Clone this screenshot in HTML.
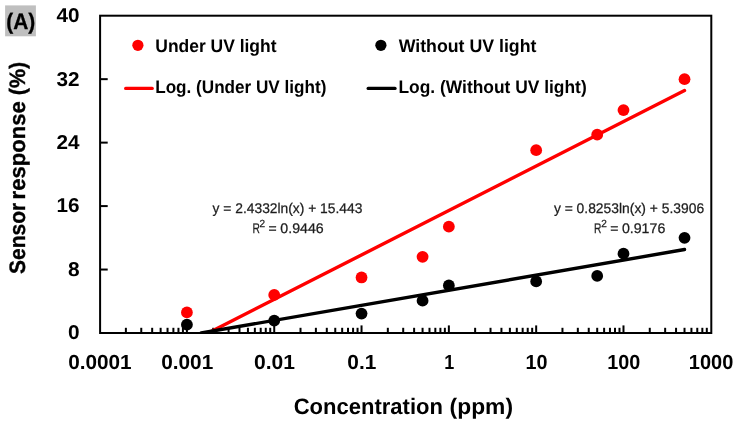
<!DOCTYPE html>
<html><head><meta charset="utf-8"><title>Chart</title>
<style>html,body{margin:0;padding:0;background:#fff;}svg{display:block;will-change:transform;}text{text-rendering:geometricPrecision;}</style>
</head><body>
<svg width="737" height="428" viewBox="0 0 737 428">
<rect x="0" y="0" width="737" height="428" fill="#fff"/>
<rect x="5.1" y="5.4" width="30.8" height="30.9" fill="#bfbfbf"/>
<text x="6.3" y="29.0" font-size="22.4" text-anchor="start" style="font-family:'Liberation Sans',sans-serif;font-weight:bold" fill="#000" textLength="29.0" lengthAdjust="spacingAndGlyphs" stroke="#000" stroke-width="0.3">(A)</text>
<line x1="100.1" y1="269.54" x2="107.69999999999999" y2="269.54" stroke="#000" stroke-width="2.0"/>
<line x1="100.1" y1="206.08" x2="107.69999999999999" y2="206.08" stroke="#000" stroke-width="2.0"/>
<line x1="100.1" y1="142.62" x2="107.69999999999999" y2="142.62" stroke="#000" stroke-width="2.0"/>
<line x1="100.1" y1="79.16" x2="107.69999999999999" y2="79.16" stroke="#000" stroke-width="2.0"/>
<text x="79.6" y="22.05" font-size="20.0" text-anchor="end" style="font-family:'Liberation Sans',sans-serif;font-weight:bold" fill="#000" textLength="23" lengthAdjust="spacingAndGlyphs">40</text>
<text x="79.6" y="85.51" font-size="20.0" text-anchor="end" style="font-family:'Liberation Sans',sans-serif;font-weight:bold" fill="#000" textLength="23" lengthAdjust="spacingAndGlyphs">32</text>
<text x="79.6" y="148.97" font-size="20.0" text-anchor="end" style="font-family:'Liberation Sans',sans-serif;font-weight:bold" fill="#000" textLength="23" lengthAdjust="spacingAndGlyphs">24</text>
<text x="79.6" y="212.43" font-size="20.0" text-anchor="end" style="font-family:'Liberation Sans',sans-serif;font-weight:bold" fill="#000" textLength="23" lengthAdjust="spacingAndGlyphs">16</text>
<text x="79.6" y="275.89" font-size="20.0" text-anchor="end" style="font-family:'Liberation Sans',sans-serif;font-weight:bold" fill="#000" textLength="11.6" lengthAdjust="spacingAndGlyphs">8</text>
<text x="79.6" y="339.35" font-size="20.0" text-anchor="end" style="font-family:'Liberation Sans',sans-serif;font-weight:bold" fill="#000" textLength="11.6" lengthAdjust="spacingAndGlyphs">0</text>
<line x1="125.88" y1="333.0" x2="125.88" y2="327.8" stroke="#000" stroke-width="2.0"/>
<line x1="141.26" y1="333.0" x2="141.26" y2="327.8" stroke="#000" stroke-width="2.0"/>
<line x1="152.17" y1="333.0" x2="152.17" y2="327.8" stroke="#000" stroke-width="2.0"/>
<line x1="160.63" y1="333.0" x2="160.63" y2="327.8" stroke="#000" stroke-width="2.0"/>
<line x1="167.54" y1="333.0" x2="167.54" y2="327.8" stroke="#000" stroke-width="2.0"/>
<line x1="173.39" y1="333.0" x2="173.39" y2="327.8" stroke="#000" stroke-width="2.0"/>
<line x1="178.45" y1="333.0" x2="178.45" y2="327.8" stroke="#000" stroke-width="2.0"/>
<line x1="182.92" y1="333.0" x2="182.92" y2="327.8" stroke="#000" stroke-width="2.0"/>
<line x1="186.91" y1="333.0" x2="186.91" y2="325.4" stroke="#000" stroke-width="2.0"/>
<line x1="213.20" y1="333.0" x2="213.20" y2="327.8" stroke="#000" stroke-width="2.0"/>
<line x1="228.57" y1="333.0" x2="228.57" y2="327.8" stroke="#000" stroke-width="2.0"/>
<line x1="239.48" y1="333.0" x2="239.48" y2="327.8" stroke="#000" stroke-width="2.0"/>
<line x1="247.94" y1="333.0" x2="247.94" y2="327.8" stroke="#000" stroke-width="2.0"/>
<line x1="254.86" y1="333.0" x2="254.86" y2="327.8" stroke="#000" stroke-width="2.0"/>
<line x1="260.70" y1="333.0" x2="260.70" y2="327.8" stroke="#000" stroke-width="2.0"/>
<line x1="265.77" y1="333.0" x2="265.77" y2="327.8" stroke="#000" stroke-width="2.0"/>
<line x1="270.23" y1="333.0" x2="270.23" y2="327.8" stroke="#000" stroke-width="2.0"/>
<line x1="274.23" y1="333.0" x2="274.23" y2="325.4" stroke="#000" stroke-width="2.0"/>
<line x1="300.51" y1="333.0" x2="300.51" y2="327.8" stroke="#000" stroke-width="2.0"/>
<line x1="315.89" y1="333.0" x2="315.89" y2="327.8" stroke="#000" stroke-width="2.0"/>
<line x1="326.80" y1="333.0" x2="326.80" y2="327.8" stroke="#000" stroke-width="2.0"/>
<line x1="335.26" y1="333.0" x2="335.26" y2="327.8" stroke="#000" stroke-width="2.0"/>
<line x1="342.17" y1="333.0" x2="342.17" y2="327.8" stroke="#000" stroke-width="2.0"/>
<line x1="348.02" y1="333.0" x2="348.02" y2="327.8" stroke="#000" stroke-width="2.0"/>
<line x1="353.08" y1="333.0" x2="353.08" y2="327.8" stroke="#000" stroke-width="2.0"/>
<line x1="357.55" y1="333.0" x2="357.55" y2="327.8" stroke="#000" stroke-width="2.0"/>
<line x1="361.54" y1="333.0" x2="361.54" y2="325.4" stroke="#000" stroke-width="2.0"/>
<line x1="387.83" y1="333.0" x2="387.83" y2="327.8" stroke="#000" stroke-width="2.0"/>
<line x1="403.20" y1="333.0" x2="403.20" y2="327.8" stroke="#000" stroke-width="2.0"/>
<line x1="414.11" y1="333.0" x2="414.11" y2="327.8" stroke="#000" stroke-width="2.0"/>
<line x1="422.57" y1="333.0" x2="422.57" y2="327.8" stroke="#000" stroke-width="2.0"/>
<line x1="429.49" y1="333.0" x2="429.49" y2="327.8" stroke="#000" stroke-width="2.0"/>
<line x1="435.33" y1="333.0" x2="435.33" y2="327.8" stroke="#000" stroke-width="2.0"/>
<line x1="440.40" y1="333.0" x2="440.40" y2="327.8" stroke="#000" stroke-width="2.0"/>
<line x1="444.86" y1="333.0" x2="444.86" y2="327.8" stroke="#000" stroke-width="2.0"/>
<line x1="448.86" y1="333.0" x2="448.86" y2="325.4" stroke="#000" stroke-width="2.0"/>
<line x1="475.14" y1="333.0" x2="475.14" y2="327.8" stroke="#000" stroke-width="2.0"/>
<line x1="490.52" y1="333.0" x2="490.52" y2="327.8" stroke="#000" stroke-width="2.0"/>
<line x1="501.43" y1="333.0" x2="501.43" y2="327.8" stroke="#000" stroke-width="2.0"/>
<line x1="509.89" y1="333.0" x2="509.89" y2="327.8" stroke="#000" stroke-width="2.0"/>
<line x1="516.80" y1="333.0" x2="516.80" y2="327.8" stroke="#000" stroke-width="2.0"/>
<line x1="522.65" y1="333.0" x2="522.65" y2="327.8" stroke="#000" stroke-width="2.0"/>
<line x1="527.71" y1="333.0" x2="527.71" y2="327.8" stroke="#000" stroke-width="2.0"/>
<line x1="532.18" y1="333.0" x2="532.18" y2="327.8" stroke="#000" stroke-width="2.0"/>
<line x1="536.17" y1="333.0" x2="536.17" y2="325.4" stroke="#000" stroke-width="2.0"/>
<line x1="562.46" y1="333.0" x2="562.46" y2="327.8" stroke="#000" stroke-width="2.0"/>
<line x1="577.83" y1="333.0" x2="577.83" y2="327.8" stroke="#000" stroke-width="2.0"/>
<line x1="588.74" y1="333.0" x2="588.74" y2="327.8" stroke="#000" stroke-width="2.0"/>
<line x1="597.20" y1="333.0" x2="597.20" y2="327.8" stroke="#000" stroke-width="2.0"/>
<line x1="604.12" y1="333.0" x2="604.12" y2="327.8" stroke="#000" stroke-width="2.0"/>
<line x1="609.96" y1="333.0" x2="609.96" y2="327.8" stroke="#000" stroke-width="2.0"/>
<line x1="615.02" y1="333.0" x2="615.02" y2="327.8" stroke="#000" stroke-width="2.0"/>
<line x1="619.49" y1="333.0" x2="619.49" y2="327.8" stroke="#000" stroke-width="2.0"/>
<line x1="623.49" y1="333.0" x2="623.49" y2="325.4" stroke="#000" stroke-width="2.0"/>
<line x1="649.77" y1="333.0" x2="649.77" y2="327.8" stroke="#000" stroke-width="2.0"/>
<line x1="665.15" y1="333.0" x2="665.15" y2="327.8" stroke="#000" stroke-width="2.0"/>
<line x1="676.05" y1="333.0" x2="676.05" y2="327.8" stroke="#000" stroke-width="2.0"/>
<line x1="684.52" y1="333.0" x2="684.52" y2="327.8" stroke="#000" stroke-width="2.0"/>
<line x1="691.43" y1="333.0" x2="691.43" y2="327.8" stroke="#000" stroke-width="2.0"/>
<line x1="697.27" y1="333.0" x2="697.27" y2="327.8" stroke="#000" stroke-width="2.0"/>
<line x1="702.34" y1="333.0" x2="702.34" y2="327.8" stroke="#000" stroke-width="2.0"/>
<line x1="706.80" y1="333.0" x2="706.80" y2="327.8" stroke="#000" stroke-width="2.0"/>
<text x="99.9" y="368.65" font-size="20.4" text-anchor="middle" style="font-family:'Liberation Sans',sans-serif;font-weight:bold" fill="#000" textLength="63.5" lengthAdjust="spacingAndGlyphs">0.0001</text>
<text x="187.21" y="368.65" font-size="20.4" text-anchor="middle" style="font-family:'Liberation Sans',sans-serif;font-weight:bold" fill="#000" textLength="52" lengthAdjust="spacingAndGlyphs">0.001</text>
<text x="274.53" y="368.65" font-size="20.4" text-anchor="middle" style="font-family:'Liberation Sans',sans-serif;font-weight:bold" fill="#000" textLength="41" lengthAdjust="spacingAndGlyphs">0.01</text>
<text x="361.84" y="368.65" font-size="20.4" text-anchor="middle" style="font-family:'Liberation Sans',sans-serif;font-weight:bold" fill="#000" textLength="29" lengthAdjust="spacingAndGlyphs">0.1</text>
<text x="449.16" y="368.65" font-size="20.4" text-anchor="middle" style="font-family:'Liberation Sans',sans-serif;font-weight:bold" fill="#000" textLength="10" lengthAdjust="spacingAndGlyphs">1</text>
<text x="536.47" y="368.65" font-size="20.4" text-anchor="middle" style="font-family:'Liberation Sans',sans-serif;font-weight:bold" fill="#000" textLength="22" lengthAdjust="spacingAndGlyphs">10</text>
<text x="623.79" y="368.65" font-size="20.4" text-anchor="middle" style="font-family:'Liberation Sans',sans-serif;font-weight:bold" fill="#000" textLength="33" lengthAdjust="spacingAndGlyphs">100</text>
<text x="711.1" y="368.65" font-size="20.4" text-anchor="middle" style="font-family:'Liberation Sans',sans-serif;font-weight:bold" fill="#000" textLength="44.5" lengthAdjust="spacingAndGlyphs">1000</text>
<text x="293.7" y="413.9" font-size="22.3" text-anchor="start" style="font-family:'Liberation Sans',sans-serif;font-weight:bold" fill="#000" textLength="149.2" lengthAdjust="spacingAndGlyphs">Concentration</text>
<text x="449.6" y="413.9" font-size="22.3" text-anchor="start" style="font-family:'Liberation Sans',sans-serif;font-weight:bold" fill="#000" textLength="63.4" lengthAdjust="spacingAndGlyphs">(ppm)</text>
<text transform="translate(25.2,274.0) rotate(-90)" font-size="22.3" style="font-family:'Liberation Sans',sans-serif;font-weight:bold" stroke="#000" stroke-width="0.35" textLength="71.2" lengthAdjust="spacingAndGlyphs">Sensor</text>
<text transform="translate(25.2,199.4) rotate(-90)" font-size="22.3" style="font-family:'Liberation Sans',sans-serif;font-weight:bold" stroke="#000" stroke-width="0.35" textLength="98.2" lengthAdjust="spacingAndGlyphs">response</text>
<text transform="translate(25.2,95.2) rotate(-90)" font-size="22.3" style="font-family:'Liberation Sans',sans-serif;font-weight:bold" stroke="#000" stroke-width="0.35" textLength="33.4" lengthAdjust="spacingAndGlyphs">(%)</text>
<defs><clipPath id="pc"><rect x="100.1" y="15.7" width="611.20" height="317.80"/></clipPath></defs>
<line x1="208.19" y1="333.00" x2="684.52" y2="90.55" stroke="#ff0000" stroke-width="3.4" stroke-linecap="round" clip-path="url(#pc)"/>
<line x1="201.17" y1="333.00" x2="684.52" y2="249.55" stroke="#000" stroke-width="3.4" stroke-linecap="round" clip-path="url(#pc)"/>
<rect x="100.1" y="15.7" width="611.20" height="317.30" fill="none" stroke="#000" stroke-width="2"/>
<circle cx="186.91" cy="312.38" r="5.9" fill="#ff0000"/>
<circle cx="274.23" cy="294.92" r="5.9" fill="#ff0000"/>
<circle cx="361.54" cy="277.47" r="5.9" fill="#ff0000"/>
<circle cx="422.57" cy="256.85" r="5.9" fill="#ff0000"/>
<circle cx="448.86" cy="226.70" r="5.9" fill="#ff0000"/>
<circle cx="536.17" cy="150.16" r="5.9" fill="#ff0000"/>
<circle cx="597.20" cy="134.69" r="5.9" fill="#ff0000"/>
<circle cx="623.49" cy="110.10" r="5.9" fill="#ff0000"/>
<circle cx="684.52" cy="79.16" r="5.9" fill="#ff0000"/>
<circle cx="186.91" cy="324.67" r="5.9" fill="#000"/>
<circle cx="274.23" cy="320.70" r="5.9" fill="#000"/>
<circle cx="361.54" cy="313.57" r="5.9" fill="#000"/>
<circle cx="422.57" cy="300.64" r="5.9" fill="#000"/>
<circle cx="448.86" cy="285.40" r="5.9" fill="#000"/>
<circle cx="536.17" cy="281.44" r="5.9" fill="#000"/>
<circle cx="597.20" cy="275.89" r="5.9" fill="#000"/>
<circle cx="623.49" cy="253.68" r="5.9" fill="#000"/>
<circle cx="684.52" cy="237.81" r="5.9" fill="#000"/>
<circle cx="137.9" cy="45.3" r="5.6" fill="#ff0000"/>
<text x="155.3" y="51.5" font-size="18" text-anchor="start" style="font-family:'Liberation Sans',sans-serif;font-weight:bold" fill="#000" textLength="121.2" lengthAdjust="spacingAndGlyphs">Under UV light</text>
<line x1="125.7" y1="88.4" x2="152.2" y2="88.4" stroke="#ff0000" stroke-width="3.3" stroke-linecap="round"/>
<text x="155.2" y="93.4" font-size="18" text-anchor="start" style="font-family:'Liberation Sans',sans-serif;font-weight:bold" fill="#000" textLength="171.2" lengthAdjust="spacingAndGlyphs">Log. (Under UV light)</text>
<circle cx="380.9" cy="45.3" r="5.6" fill="#000"/>
<text x="398.7" y="51.5" font-size="18" text-anchor="start" style="font-family:'Liberation Sans',sans-serif;font-weight:bold" fill="#000" textLength="137.7" lengthAdjust="spacingAndGlyphs">Without UV light</text>
<line x1="368.2" y1="88.4" x2="395.0" y2="88.4" stroke="#000" stroke-width="3.3" stroke-linecap="round"/>
<text x="398.5" y="93.4" font-size="18" text-anchor="start" style="font-family:'Liberation Sans',sans-serif;font-weight:bold" fill="#000" textLength="188.2" lengthAdjust="spacingAndGlyphs">Log. (Without UV light)</text>
<text x="212.6" y="213.1" font-size="14.0" text-anchor="start" style="font-family:'Liberation Sans',sans-serif;font-weight:normal" fill="#1c1c1c" textLength="149.8" lengthAdjust="spacingAndGlyphs" stroke="#1c1c1c" stroke-width="0.25">y = 2.4332ln(x) + 15.443</text>
<text x="252.4" y="232.5" font-size="14.0" text-anchor="start" style="font-family:'Liberation Sans',sans-serif;font-weight:normal" fill="#1c1c1c" textLength="7.4" lengthAdjust="spacingAndGlyphs" stroke="#1c1c1c" stroke-width="0.25">R</text>
<text x="259.6" y="226.8" font-size="10.4" text-anchor="start" style="font-family:'Liberation Sans',sans-serif;font-weight:normal" fill="#1c1c1c" textLength="5.6" lengthAdjust="spacingAndGlyphs" stroke="#1c1c1c" stroke-width="0.25">2</text>
<text x="268.6" y="232.5" font-size="14.0" text-anchor="start" style="font-family:'Liberation Sans',sans-serif;font-weight:normal" fill="#1c1c1c" textLength="8.2" lengthAdjust="spacingAndGlyphs" stroke="#1c1c1c" stroke-width="0.25">=</text>
<text x="280.3" y="232.5" font-size="14.0" text-anchor="start" style="font-family:'Liberation Sans',sans-serif;font-weight:normal" fill="#1c1c1c" textLength="43.4" lengthAdjust="spacingAndGlyphs" stroke="#1c1c1c" stroke-width="0.25">0.9446</text>
<text x="553.9" y="213.1" font-size="14.0" text-anchor="start" style="font-family:'Liberation Sans',sans-serif;font-weight:normal" fill="#1c1c1c" textLength="150.2" lengthAdjust="spacingAndGlyphs" stroke="#1c1c1c" stroke-width="0.25">y = 0.8253ln(x) + 5.3906</text>
<text x="594.0" y="232.5" font-size="14.0" text-anchor="start" style="font-family:'Liberation Sans',sans-serif;font-weight:normal" fill="#1c1c1c" textLength="7.4" lengthAdjust="spacingAndGlyphs" stroke="#1c1c1c" stroke-width="0.25">R</text>
<text x="601.2" y="226.8" font-size="10.4" text-anchor="start" style="font-family:'Liberation Sans',sans-serif;font-weight:normal" fill="#1c1c1c" textLength="5.6" lengthAdjust="spacingAndGlyphs" stroke="#1c1c1c" stroke-width="0.25">2</text>
<text x="610.2" y="232.5" font-size="14.0" text-anchor="start" style="font-family:'Liberation Sans',sans-serif;font-weight:normal" fill="#1c1c1c" textLength="8.2" lengthAdjust="spacingAndGlyphs" stroke="#1c1c1c" stroke-width="0.25">=</text>
<text x="621.9" y="232.5" font-size="14.0" text-anchor="start" style="font-family:'Liberation Sans',sans-serif;font-weight:normal" fill="#1c1c1c" textLength="43.4" lengthAdjust="spacingAndGlyphs" stroke="#1c1c1c" stroke-width="0.25">0.9176</text>
</svg>
</body></html>
